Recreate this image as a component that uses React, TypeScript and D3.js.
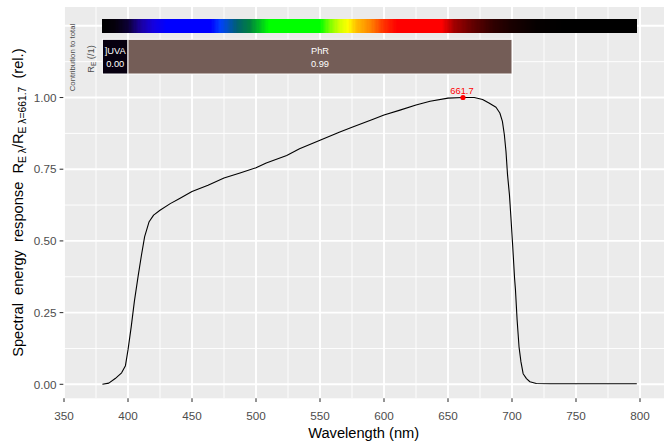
import React from 'react';
import * as d3 from 'd3';

// ---- data ----
const wavelengths = [380, 385, 390, 395, 398, 400, 402.5, 405, 408, 410.5, 413, 416.5, 420, 425, 433, 440, 450, 462.5, 475, 487.5, 500, 508, 524, 534, 550, 565, 575, 591.5, 600, 612.5, 625, 636, 650, 661.7, 670.5, 677, 682, 687.5, 690.5, 692.5, 694, 695.3, 696.5, 698, 699.2, 700.5, 702, 702.7, 704, 705.5, 707, 708.7, 711.3, 714, 719, 730, 797.5];
const response = [0.0, 0.004, 0.02, 0.04, 0.065, 0.12, 0.2, 0.29, 0.38, 0.45, 0.515, 0.567, 0.59, 0.607, 0.63, 0.647, 0.672, 0.694, 0.719, 0.737, 0.755, 0.772, 0.798, 0.821, 0.851, 0.879, 0.896, 0.924, 0.939, 0.956, 0.974, 0.987, 0.998, 1.0, 1.0, 0.993, 0.981, 0.966, 0.946, 0.917, 0.871, 0.812, 0.731, 0.661, 0.579, 0.486, 0.37, 0.33, 0.224, 0.13, 0.078, 0.037, 0.02, 0.009, 0.003, 0.002, 0.002];

const peakWavelength = 661.7;
const peakValue = 1.0;
const peakLabel = '661.7';

const xTicks = [350, 400, 450, 500, 550, 600, 650, 700, 750, 800];
const xMinor = [375, 425, 475, 525, 575, 625, 675, 725, 775];
const yTicks = [0, 0.25, 0.5, 0.75, 1.0];
const yTickLabels = ['0.00', '0.25', '0.50', '0.75', '1.00'];
const yGridMajor = [0, 0.25, 0.5, 0.75, 1.0, 1.25];
const yGridMinor = [0.125, 0.375, 0.625, 0.875, 1.125];

const bandNames = [']UVA', 'PhR'];
const bandLow = [380, 400];
const bandHigh = [400, 700];
const bandContribution = ['0.00', '0.99'];
const bandColors = ['#070010', '#745D57'];

const colorBarRange = [380, 797.5];
const colorStopWl = [380, 390, 400, 410, 420, 430, 465, 472, 478, 485, 495, 503, 510, 550, 558, 565, 572, 578, 590, 600, 610, 645, 655, 670, 685, 700, 720, 740, 800];
const colorStopHex = ['#000000', '#05000c', '#0c0035', '#1a00a0', '#1400e0', '#0000ff', '#0000ff', '#0040ff', '#0050c0', '#006070', '#008040', '#00c020', '#00ff00', '#00ff00', '#80ff00', '#d0ff00', '#ffff00', '#ffc000', '#ff8000', '#ff3000', '#ff0000', '#ff0000', '#a00000', '#600000', '#300000', '#180000', '#050000', '#000000', '#000000'];

// ---- layout ----
const W = 672, H = 447;
const panel = { left: 63.3, right: 664, top: 7, bottom: 398.3 };
const FONT = '"Liberation Sans", Arial, sans-serif';

export default function App() {
  const x = d3.scaleLinear().domain([349.45, 818.75]).range([panel.left, panel.right]);
  const y = d3.scaleLinear().domain([-0.0488, 1.3156]).range([panel.bottom, panel.top]);
  const wlColor = d3.scaleLinear<string>().domain(colorStopWl).range(colorStopHex).interpolate(d3.interpolateRgb);

  const pts: [number, number][] = wavelengths.map((w, i) => [w, response[i]]);
  const line = d3.line<[number, number]>().x(d => x(d[0])).y(d => y(d[1])).curve(d3.curveLinear);

  const barSteps = d3.range(colorBarRange[0], colorBarRange[1], 1);
  const barTop = 1.2724, barBottom = 1.2259;
  const boxTop = 1.2029, boxBottom = 1.0819;

  return (
    <svg width={W} height={H} style={{ position: 'absolute', left: 0, top: 0, background: '#fff' }} fontFamily={FONT}>
      <rect x={panel.left} y={panel.top} width={panel.right - panel.left} height={panel.bottom - panel.top} fill="#EBEBEB" />
      {/* minor grid */}
      {xMinor.map(v => (
        <line key={'xm' + v} x1={x(v)} x2={x(v)} y1={panel.top} y2={panel.bottom} stroke="#fff" strokeWidth={0.95} />
      ))}
      {yGridMinor.map(v => (
        <line key={'ym' + v} x1={panel.left} x2={panel.right} y1={y(v)} y2={y(v)} stroke="#fff" strokeWidth={0.95} />
      ))}
      {/* major grid */}
      {xTicks.map(v => (
        <line key={'xg' + v} x1={x(v)} x2={x(v)} y1={panel.top} y2={panel.bottom} stroke="#fff" strokeWidth={1.9} />
      ))}
      {yGridMajor.map(v => (
        <line key={'yg' + v} x1={panel.left} x2={panel.right} y1={y(v)} y2={y(v)} stroke="#fff" strokeWidth={1.9} />
      ))}

      {/* colour bar */}
      <g shapeRendering="crispEdges">
        {barSteps.map(w => (
          <rect key={'cb' + w} x={x(w)} y={y(barTop)} width={x(Math.min(w + 1, colorBarRange[1])) - x(w) + 0.5} height={y(barBottom) - y(barTop)} fill={wlColor(w + 0.5)} />
        ))}
      </g>

      {/* waveband boxes */}
      {bandNames.map((n, i) => (
        <g key={'band' + n}>
          <rect x={x(bandLow[i])} y={y(boxTop)} width={x(bandHigh[i]) - x(bandLow[i])} height={y(boxBottom) - y(boxTop)} fill={bandColors[i]} stroke="#fff" strokeWidth={1} />
          <text x={(x(bandLow[i]) + x(bandHigh[i])) / 2} y={54} textAnchor="middle" fontSize={9.3} fill="#fff">{n}</text>
          <text x={(x(bandLow[i]) + x(bandHigh[i])) / 2} y={66.7} textAnchor="middle" fontSize={9.3} fill="#fff">{bandContribution[i]}</text>
        </g>
      ))}

      {/* side labels */}
      <text transform="translate(74.5,57.5) rotate(-90)" textAnchor="middle" fontSize={7.8} fill="#4D4D4D">Contribution to total</text>
      <text transform="translate(93.5,59) rotate(-90)" textAnchor="middle" fontSize={9.3} fill="#4D4D4D">
        R<tspan fontSize={6.5} dy={2}>E</tspan><tspan dy={-2}> (/1)</tspan>
      </text>

      {/* curve */}
      <path d={line(pts) || ''} fill="none" stroke="#000" strokeWidth={1.1} strokeLinejoin="round" />

      {/* peak */}
      <circle cx={x(peakWavelength)} cy={y(peakValue)} r={2.6} fill="#FF0000" />
      <text x={x(peakWavelength) - 1} y={93.5} textAnchor="middle" fontSize={9.3} fill="#FF0000">{peakLabel}</text>

      {/* x axis */}
      {xTicks.map(v => (
        <g key={'xt' + v}>
          <line x1={x(v)} x2={x(v)} y1={panel.bottom} y2={panel.bottom + 3.7} stroke="#333" strokeWidth={1.05} />
          <text x={x(v)} y={419.5} textAnchor="middle" fontSize={11.7} fill="#4D4D4D">{v}</text>
        </g>
      ))}
      {/* y axis */}
      {yTicks.map((v, i) => (
        <g key={'yt' + v}>
          <line x1={panel.left - 3.7} x2={panel.left} y1={y(v)} y2={y(v)} stroke="#333" strokeWidth={1.05} />
          <text x={56.4} y={y(v) + 4.2} textAnchor="end" fontSize={11.7} fill="#4D4D4D">{yTickLabels[i]}</text>
        </g>
      ))}

      <text x={(panel.left + panel.right) / 2} y={438} textAnchor="middle" fontSize={14.67} fill="#000">Wavelength (nm)</text>
      <text transform={`translate(23.3,${(panel.top + panel.bottom) / 2}) rotate(-90)`} textAnchor="middle" fontSize={14.67} fill="#000" style={{ whiteSpace: 'pre' }}>
        {'Spectral  energy  response  R'}
        <tspan fontSize={10.3} dy={3}>{'E λ'}</tspan>
        <tspan dy={-3}>{'/R'}</tspan>
        <tspan fontSize={10.3} dy={3}>{'E λ=661.7'}</tspan>
        <tspan dy={-3}>{'  (rel.)'}</tspan>
      </text>
    </svg>
  );
}
